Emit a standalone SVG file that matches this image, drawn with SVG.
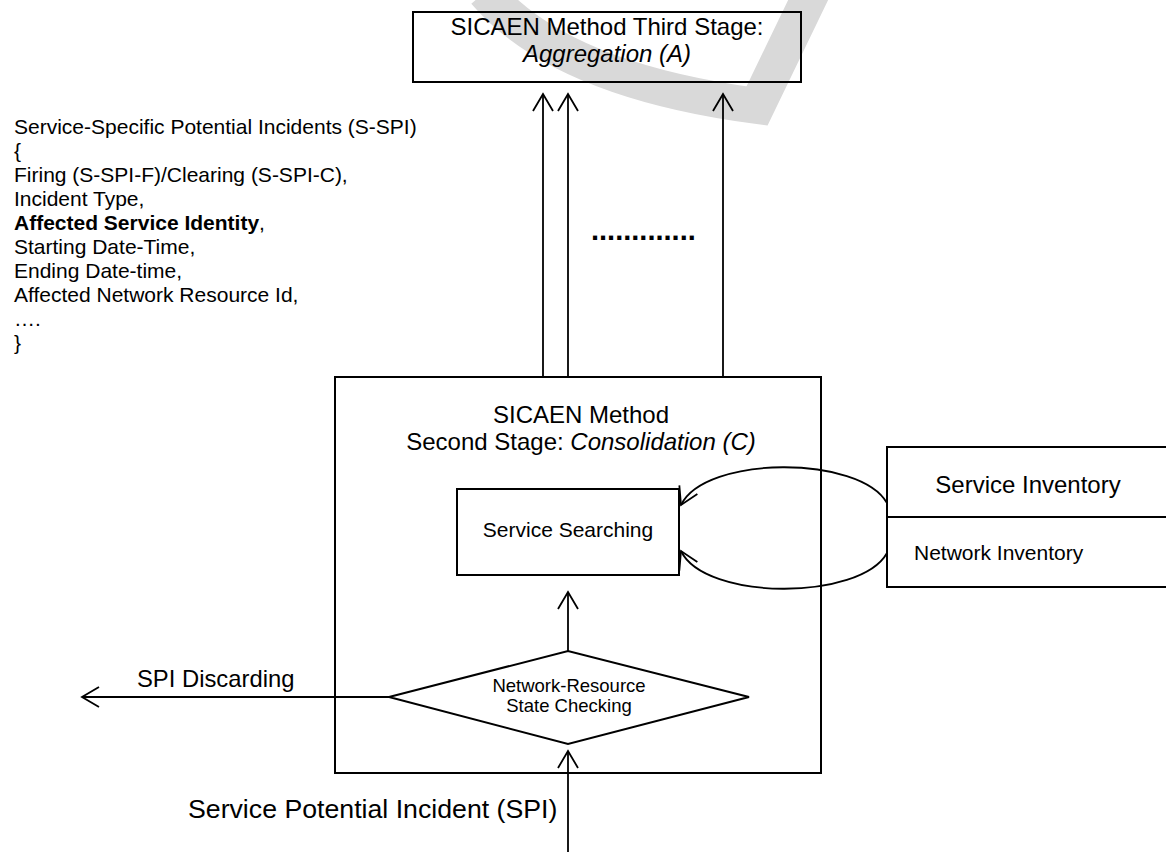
<svg xmlns="http://www.w3.org/2000/svg" width="1166" height="852" viewBox="0 0 1166 852">
<style>
text{font-family:"Liberation Sans",Arial,sans-serif;fill:#000}
.box{fill:none;stroke:#000;stroke-width:2}
.ln{fill:none;stroke:#000;stroke-width:1.8}
.c{text-anchor:middle}
</style>
<defs>
<marker id="ah" markerUnits="userSpaceOnUse" markerWidth="40" markerHeight="40" viewBox="-20 -20 40 40" refX="0" refY="0" orient="auto">
<path d="M -17 -10 L 0 0 L -17 10" fill="none" stroke="#000" stroke-width="1.8"/>
</marker>
</defs>
<rect width="1166" height="852" fill="#fff"/>
<g id="watermark">
<path d="M 485 -8 Q 560 80 757 106 L 812 -8" fill="none" stroke="#d9d9d9" stroke-width="36" stroke-linejoin="miter"/>
</g>
<g id="aggregation">
<rect class="box" x="413" y="12" width="388" height="70"/>
<text class="c" x="607" y="35" font-size="24">SICAEN Method Third Stage:</text>
<text class="c" x="607" y="62" font-size="24" font-style="italic">Aggregation (A)</text>
</g>
<g id="sspi-text" font-size="21">
<text x="14" y="134">Service-Specific Potential Incidents (S-SPI)</text>
<text x="14" y="158">{</text>
<text x="14" y="182">Firing (S-SPI-F)/Clearing (S-SPI-C),</text>
<text x="14" y="206">Incident Type,</text>
<text x="14" y="230"><tspan font-weight="bold">Affected Service Identity</tspan>,</text>
<text x="14" y="254">Starting Date-Time,</text>
<text x="14" y="278">Ending Date-time,</text>
<text x="14" y="302">Affected Network Resource Id,</text>
<text x="14" y="326">….</text>
<text x="14" y="350">}</text>
</g>
<g id="dots">
<text x="591" y="240" font-size="29" font-weight="bold">.............</text>
</g>
<g id="consolidation">
<rect class="box" x="335" y="377" width="486" height="396"/>
<text class="c" x="581" y="423" font-size="24">SICAEN Method</text>
<text class="c" x="581" y="450" font-size="24">Second Stage: <tspan font-style="italic">Consolidation (C)</tspan></text>
</g>
<g id="service-searching">
<rect class="box" x="457" y="489" width="222" height="86"/>
<text class="c" x="568" y="537" font-size="21">Service Searching</text>
</g>
<g id="state-checking">
<polygon class="box" points="389,697 568,651 749,697 568,744"/>
<text class="c" x="569" y="692" font-size="18.5">Network-Resource</text>
<text class="c" x="569" y="712" font-size="18.5">State Checking</text>
</g>
<g id="inventory">
<rect class="box" x="887" y="447" width="300" height="140"/>
<line class="box" x1="887" y1="517" x2="1170" y2="517"/>
<text class="c" x="1028" y="493" font-size="24">Service Inventory</text>
<text x="914" y="560" font-size="21">Network Inventory</text>
</g>
<g id="labels">
<text x="137" y="687" font-size="23.8">SPI Discarding</text>
<text x="188" y="818" font-size="26.7">Service Potential Incident (SPI)</text>
</g>
<g id="connectors">
<line class="ln" x1="543" y1="377" x2="543" y2="94" marker-end="url(#ah)"/>
<line class="ln" x1="568" y1="377" x2="568" y2="94" marker-end="url(#ah)"/>
<line class="ln" x1="723" y1="377" x2="723" y2="94" marker-end="url(#ah)"/>
<line class="ln" x1="568" y1="651" x2="568" y2="592" marker-end="url(#ah)"/>
<line class="ln" x1="568" y1="852" x2="568" y2="751" marker-end="url(#ah)"/>
<line class="ln" x1="389" y1="697" x2="82" y2="697" marker-end="url(#ah)"/>
<path class="ln" d="M 887 503 C 860 455, 705 455, 681 505" marker-end="url(#ah)"/>
<path class="ln" d="M 887 553 C 860 601, 705 601, 681 551" marker-end="url(#ah)"/>
</g>
</svg>
